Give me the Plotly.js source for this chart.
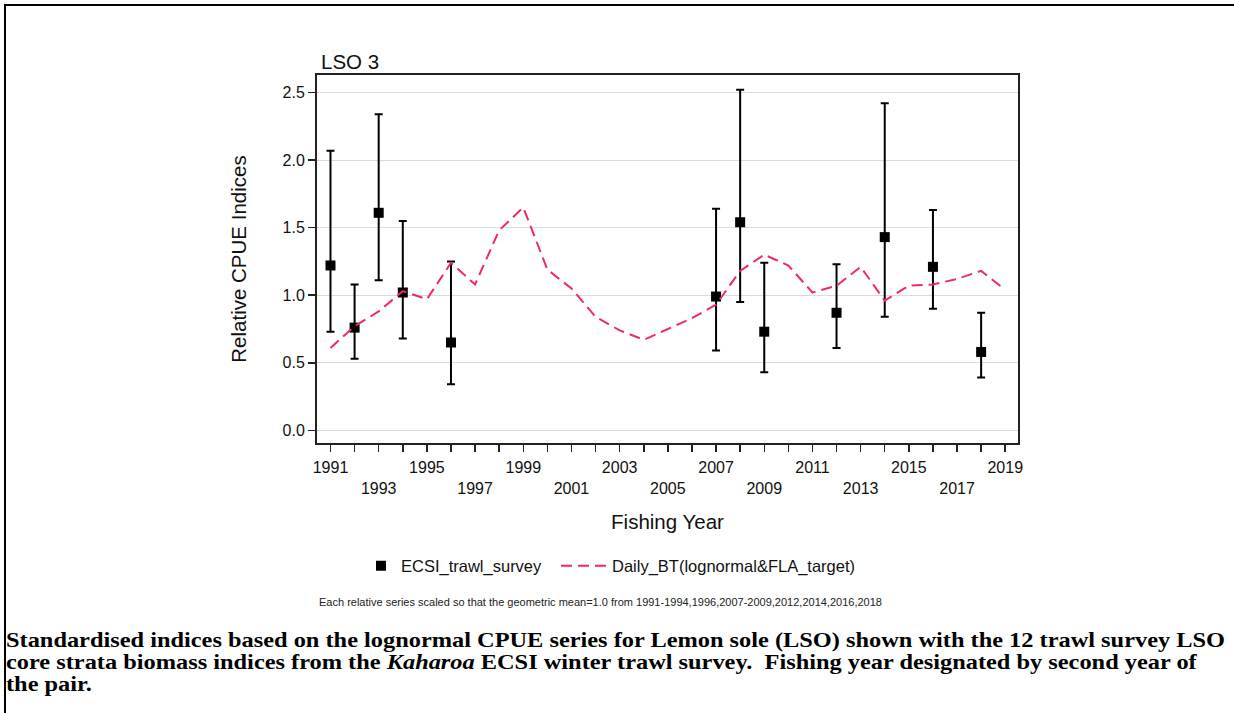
<!DOCTYPE html>
<html>
<head>
<meta charset="utf-8">
<script src="https://cdn.plot.ly/plotly-3.0.1.min.js"></script>
<style>
  html, body { margin: 0; padding: 0; background: #fff; }
  #wrap { position: relative; width: 1234px; height: 713px; overflow: hidden; background: #fff; }
  #chart { position: absolute; left: 0; top: 0; width: 1234px; height: 713px; }
  #frameTop { position: absolute; left: 4px; top: 4px; width: 1230px; height: 2px; background: #000; }
  #frameLeft { position: absolute; left: 4px; top: 4px; width: 2px; height: 709px; background: #000; }
  #caption { position: absolute; left: 6px; top: 629px; width: 1050px;
    font-family: "Liberation Serif", "Times New Roman", serif; font-weight: bold;
    font-size: 21px; line-height: 22px; color: #000; white-space: nowrap;
    transform: scaleX(1.16); transform-origin: left top; }
</style>
</head>
<body>
<div id="wrap">
  <div id="chart"></div>
  <div id="frameTop"></div>
  <div id="frameLeft"></div>
  <div id="caption">Standardised indices based on the lognormal CPUE series for Lemon sole (LSO) shown with the 12 trawl survey LSO<br>core strata biomass indices from the <i>Kaharoa</i> ECSI winter trawl survey.&nbsp; Fishing year designated by second year of<br>the pair.</div>
</div>
<script>
// ---- data ----
const surveyYears = [1991, 1992, 1993, 1994, 1996, 2007, 2008, 2009, 2012, 2014, 2016, 2018];
const surveyIndex = [1.22, 0.76, 1.61, 1.02, 0.65, 0.99, 1.54, 0.73, 0.87, 1.43, 1.21, 0.58];
const surveyUpper = [2.07, 1.08, 2.34, 1.55, 1.25, 1.64, 2.52, 1.24, 1.23, 2.42, 1.63, 0.87];
const surveyLower = [0.73, 0.53, 1.11, 0.68, 0.34, 0.59, 0.95, 0.43, 0.61, 0.84, 0.90, 0.39];

const cpueYears = [1991, 1992, 1993, 1994, 1995, 1996, 1997, 1998, 1999, 2000,
                   2001, 2002, 2003, 2004, 2005, 2006, 2007, 2008, 2009, 2010,
                   2011, 2012, 2013, 2014, 2015, 2016, 2017, 2018, 2019];
const cpueIndex = [0.61, 0.77, 0.88, 1.03, 0.97, 1.24, 1.08, 1.48, 1.65, 1.19,
                   1.05, 0.84, 0.74, 0.67, 0.75, 0.83, 0.93, 1.18, 1.30, 1.22,
                   1.02, 1.07, 1.21, 0.96, 1.07, 1.08, 1.12, 1.18, 1.04];

const xTickYears = [1991, 1992, 1993, 1994, 1995, 1996, 1997, 1998, 1999, 2000,
                    2001, 2002, 2003, 2004, 2005, 2006, 2007, 2008, 2009, 2010,
                    2011, 2012, 2013, 2014, 2015, 2016, 2017, 2018, 2019];
const xRow1Labels = ['1991', '1995', '1999', '2003', '2007', '2011', '2015', '2019'];
const xRow2Labels = ['1993', '1997', '2001', '2005', '2009', '2013', '2017'];
const yTickVals = [0, 0.5, 1.0, 1.5, 2.0, 2.5];
const yTickLabels = ['0.0', '0.5', '1.0', '1.5', '2.0', '2.5'];

const seriesNames = ['ECSI_trawl_survey', 'Daily_BT(lognormal&FLA_target)'];
const titleText = 'LSO 3';
const xTitle = 'Fishing Year';
const yTitle = 'Relative CPUE Indices';
const footnote = 'Each relative series scaled so that the geometric mean=1.0 from 1991-1994,1996,2007-2009,2012,2014,2016,2018';

// ---- build ----
const errPlus = surveyUpper.map((u, i) => u - surveyIndex[i]);
const errMinus = surveyLower.map((l, i) => surveyIndex[i] - l);
const xTickText = xTickYears.map(y => {
  const s = String(y);
  if (xRow1Labels.includes(s)) return s;
  if (xRow2Labels.includes(s)) return '<br>' + s;
  return '';
});

const FONT = '"Liberation Sans", Arial, sans-serif';

const traces = [
  {
    type: 'scatter', mode: 'markers', name: seriesNames[0], legend: 'legend',
    x: surveyYears, y: surveyIndex,
    marker: { symbol: 'square', size: 10, color: '#000' },
    error_y: { type: 'data', symmetric: false, array: errPlus, arrayminus: errMinus,
               color: '#000', thickness: 2, width: 4 }
  },
  {
    type: 'scatter', mode: 'lines', name: seriesNames[1], legend: 'legend2',
    x: cpueYears, y: cpueIndex,
    line: { color: '#ee2a62', width: 2, dash: '11px,6px' }
  }
];

const legendFont = { family: FONT, size: 16.5, color: '#111' };

const layout = {
  width: 1234, height: 713,
  margin: { l: 317, r: 216, t: 75, b: 270 },
  paper_bgcolor: 'rgba(0,0,0,0)', plot_bgcolor: '#fff',
  font: { family: FONT, color: '#111' },
  showlegend: true,
  title: { text: titleText, font: { family: FONT, size: 20.5, color: '#111' },
           xref: 'container', yref: 'container', x: 321 / 1234, xanchor: 'left',
           y: 1 - 62 / 713, yanchor: 'middle' },
  xaxis: {
    range: [1990.44, 2019.53], tickmode: 'array', tickvals: xTickYears, ticktext: xTickText,
    ticks: 'outside', ticklen: 7, tickwidth: 1.5, tickcolor: '#222',
    ticklabelstandoff: 2,
    showline: true, linecolor: '#222', linewidth: 2, mirror: true,
    showgrid: false, zeroline: false,
    tickfont: { family: FONT, size: 16, color: '#111' },
    title: { text: xTitle, font: { family: FONT, size: 20.5, color: '#111' }, standoff: 19 }
  },
  yaxis: {
    range: [-0.094, 2.63], tickmode: 'array', tickvals: yTickVals, ticktext: yTickLabels,
    ticks: 'outside', ticklen: 7, tickwidth: 1.5, tickcolor: '#222',
    showline: true, linecolor: '#222', linewidth: 2, mirror: true,
    showgrid: true, gridcolor: '#dadada', gridwidth: 1, zeroline: false,
    tickfont: { family: FONT, size: 16, color: '#111' },
    title: { text: yTitle, font: { family: FONT, size: 20.5, color: '#111' }, standoff: 30 }
  },
  legend: {
    orientation: 'h', x: (361 - 317) / 701, xanchor: 'left',
    y: (443 - 566) / 368, yanchor: 'middle',
    font: legendFont, bgcolor: 'rgba(0,0,0,0)'
  },
  legend2: {
    orientation: 'h', x: (556 - 317) / 701, xanchor: 'left',
    y: (443 - 566) / 368, yanchor: 'middle', itemwidth: 46,
    font: legendFont, bgcolor: 'rgba(0,0,0,0)'
  },
  annotations: [
    { text: footnote, xref: 'paper', yref: 'paper', x: (600 - 317) / 701, y: (443 - 602) / 368,
      xanchor: 'center', yanchor: 'middle', showarrow: false,
      font: { family: FONT, size: 11, color: '#222' } }
  ]
};

Plotly.newPlot('chart', traces, layout, { displayModeBar: false, staticPlot: true });
</script>
</body>
</html>
